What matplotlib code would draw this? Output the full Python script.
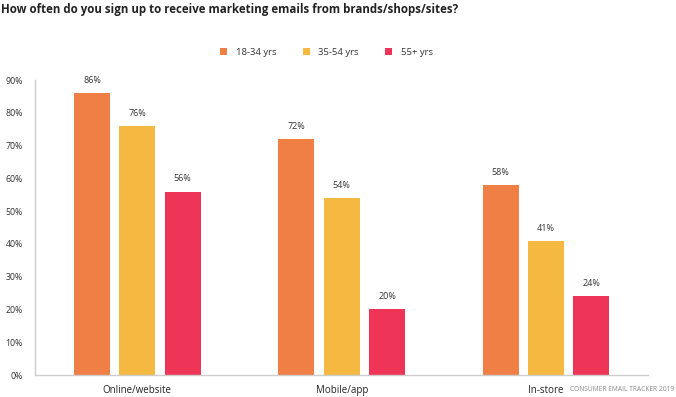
import numpy as np
import matplotlib
matplotlib.use("Agg")
import matplotlib.pyplot as plt

plt.rcParams['font.family'] = ['Open Sans', 'DejaVu Sans']

categories = ['Online/website', 'Mobile/app', 'In-store']
series_names = ['18-34 yrs', '35-54 yrs', '55+ yrs']
young = [86, 72, 58]
middle = [76, 54, 41]
older = [56, 20, 24]
colors = ['#F07F45', '#F5B942', '#EE3558']

fig = plt.figure(figsize=(6.76, 3.97), dpi=100)
ax = fig.add_axes([0.052, 0.0554, 0.907, 0.7426])

x = np.arange(len(categories))
width = 0.176
offset = 0.222
for i, (vals, name) in enumerate(zip([young, middle, older], series_names)):
    bars = ax.bar(x + (i - 1) * offset, vals, width, color=colors[i], label=name)
    for b, v in zip(bars, vals):
        ax.text(b.get_x() + b.get_width() / 2, v + 2.5, '%d%%' % v,
                ha='center', va='bottom', fontsize=6.5, color='#333333')

ax.set_xlim(-0.5, 2.5)
ax.set_ylim(0, 90)
ax.set_yticks(range(0, 91, 10))
ax.set_yticklabels(['%d%%' % t for t in range(0, 91, 10)])
ax.set_xticks(x)
ax.set_xticklabels(categories)
ax.tick_params(axis='y', length=0, labelsize=6.3, labelcolor='#333333', pad=9)
ax.tick_params(axis='x', length=0, labelsize=7, labelcolor='#222222', pad=7)
for s in ['top', 'right']:
    ax.spines[s].set_visible(False)
for s in ['left', 'bottom']:
    ax.spines[s].set_color('#cccccc')
    ax.spines[s].set_linewidth(1)

fig.text(0.002, 0.975, 'How often do you sign up to receive marketing emails from brands/shops/sites?',
         fontsize=8.3, fontweight='bold', color='#222222', ha='left', va='center')

fig.legend(loc='center', bbox_to_anchor=(0.483, 0.868), ncol=3, frameon=False,
           fontsize=6.8, handlelength=0.7, handleheight=0.7, handletextpad=0.9,
           columnspacing=2.85, labelcolor='#333333')

fig.text(0.997, 0.018, 'CONSUMER EMAIL TRACKER 2019', fontsize=4.8, color='#888888',
         ha='right', va='center')

fig.savefig('out.png', dpi=100)
